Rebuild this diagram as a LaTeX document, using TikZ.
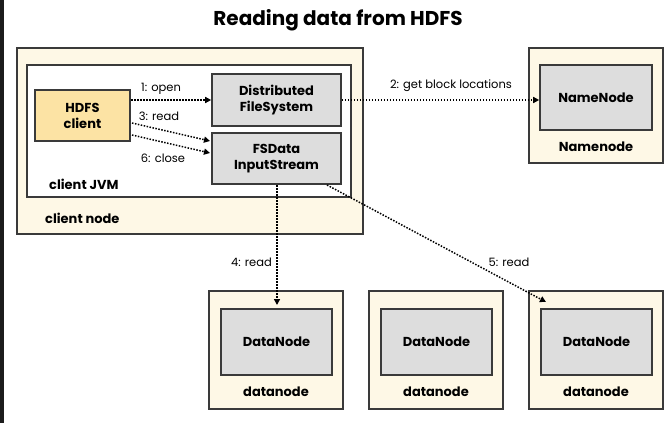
\documentclass[tikz,border=0pt]{standalone}
\usepackage{fontspec}
\setmainfont{Poppins}
\usetikzlibrary{arrows.meta}
\definecolor{edge}{HTML}{3A3A3A}
\definecolor{cream}{HTML}{FEF8E6}
\definecolor{ygold}{HTML}{FCE3A4}
\definecolor{lgray}{HTML}{DDDDDD}
\definecolor{darkbar}{HTML}{1C1C1C}
\tikzset{
  outerbox/.style={draw=edge, line width=1.6pt, fill=cream},
  jvmbox/.style={draw=edge, line width=1.6pt, fill=white},
  graybox/.style={draw=edge, line width=1.6pt, fill=lgray, align=center, font=\fontsize{13}{16}\selectfont\bfseries, inner sep=0pt},
  yellowbox/.style={draw=edge, line width=1.6pt, fill=ygold, align=center, font=\fontsize{13}{16}\selectfont\bfseries, inner sep=0pt},
  boxlabel/.style={font=\fontsize{13}{16}\selectfont\bfseries, inner sep=0pt},
  elabel/.style={font=\fontsize{11.5}{13}\selectfont, inner sep=0pt},
  flow/.style={line width=1.5pt, dash pattern=on 1.5pt off 1.5pt, -{Triangle[length=6pt,width=6pt]}},
}
\begin{document}
\begin{tikzpicture}[x=1pt,y=-1pt]
\useasboundingbox (0,0) rectangle (667,423);
\fill[white] (0,0) rectangle (667,423);
\fill[darkbar] (0,0) rectangle (4,423);
\node[font=\fontsize{20}{24}\selectfont\bfseries] (title) at (338,20) {Reading data from HDFS};
% client node
\draw[outerbox] (17,48) rectangle (363,234);
\node[boxlabel, anchor=west] (cnode) at (45,218) {client node};
\draw[jvmbox] (27,65) rectangle (351,197);
\node[boxlabel, anchor=west] (cjvm) at (49,184) {client JVM};
\node[yellowbox, minimum width=95pt, minimum height=51pt] (hdfs) at (82.5,115.5) {HDFS\\client};
\node[graybox, minimum width=129pt, minimum height=52pt] (dfs) at (276.5,100) {Distributed\\FileSystem};
\node[graybox, minimum width=129pt, minimum height=51pt] (fsd) at (276.5,158.5) {FSData\\InputStream};
% namenode
\draw[outerbox] (529,48) rectangle (663,163);
\node[graybox, minimum width=112pt, minimum height=65pt] (nn) at (596,97.5) {NameNode};
\node[boxlabel] (nnl) at (596,147) {Namenode};
% datanodes
\foreach \i/\cx in {1/276, 2/436, 3/596}{
  \draw[outerbox] (\cx-67,291) rectangle (\cx+67,409);
  \node[graybox, minimum width=111pt, minimum height=66pt] (dn\i) at (\cx+0.5,342) {DataNode};
  \node[boxlabel] (dnl\i) at (\cx,392) {datanode};
}
% arrows
\coordinate (h1) at (131,100);
\coordinate (h3) at (132,123);
\coordinate (h6) at (132,135);
\draw[flow] (h1) -- (dfs.west |- h1);
\node[elabel] (l1) at (161,89) {1: open};
\draw[flow] (h3) -- (210,141);
\node[elabel] (l3) at (159,116) {3: read};
\draw[flow] (h6) -- (210,153);
\node[elabel] (l6) at (163,158) {6: close};
\draw[flow] (dfs.east) -- (nn.west |- dfs.east);
\node[elabel] (l2) at (451,86) {2: get block locations};
\coordinate (f4) at (277,185);
\coordinate (d4) at (277,305);
\draw[flow] (f4) -- (d4);
\node[elabel, anchor=east] (l4) at (272,262) {4: read};
\coordinate (f5) at (327,185);
\coordinate (d5) at (546,302);
\draw[flow] (f5) -- (d5);
\node[elabel] (l5) at (509,262) {5: read};
\end{tikzpicture}
\end{document}
